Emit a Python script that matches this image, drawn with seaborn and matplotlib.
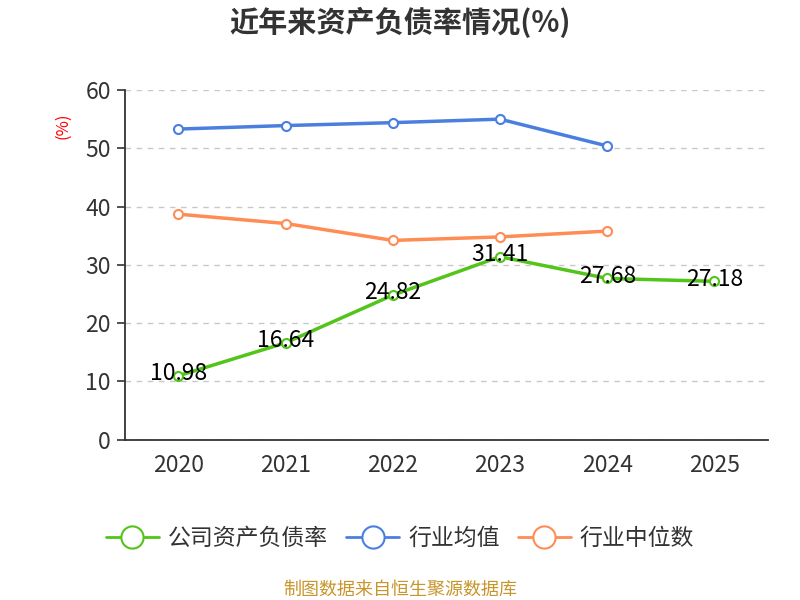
import numpy as np
import pandas as pd
import matplotlib
matplotlib.use('Agg')
import matplotlib.pyplot as plt
from matplotlib.lines import Line2D
import seaborn as sns

# ---- 数据 ----
years = ['2020', '2021', '2022', '2023', '2024', '2025']
company = [10.98, 16.64, 24.82, 31.41, 27.68, 27.18]
industry_avg = [53.3, 53.9, 54.4, 55.0, 50.4, np.nan]
industry_med = [38.7, 37.1, 34.2, 34.8, 35.8, np.nan]

series_names = ['公司资产负债率', '行业均值', '行业中位数']
colors = ['#52c41a', '#4a7fe0', '#ff8c55']

sns.set_theme(style='white')
plt.rcParams['font.family'] = ['Noto Sans CJK SC', 'DejaVu Sans']
plt.rcParams['axes.unicode_minus'] = False

df = pd.DataFrame({'pos': range(len(years)),
                   series_names[0]: company,
                   series_names[1]: industry_avg,
                   series_names[2]: industry_med})

fig = plt.figure(figsize=(8, 6), dpi=100)
ax = fig.add_axes([0.156, 0.267, 0.804, 0.583])

# 先画行业线，再画公司线
for name, c in zip(series_names[::-1], colors[::-1]):
    sub = df[['pos', name]].dropna()
    sns.lineplot(data=sub, x='pos', y=name, ax=ax, color=c, linewidth=2.5,
                 marker='o', markersize=6.5, markerfacecolor='white',
                 markeredgecolor=c, markeredgewidth=1.5)

for i, v in enumerate(company):
    ax.text(i, v + 0.4, f'{v:.2f}', ha='center', va='center',
            fontsize=16.5, color='black')

ax.set_xlim(-0.5, len(years) - 0.5)
ax.set_ylim(0, 60)
ax.set_yticks(range(0, 61, 10))
ax.set_xticks(range(len(years)))
ax.set_xticklabels(years)
ax.set_xticks(np.arange(-0.5, len(years), 1), minor=True)
ax.tick_params(axis='x', which='major', length=0, pad=10, labelsize=16.5, labelcolor='#333333')
ax.tick_params(axis='x', which='minor', length=6, width=1.2, color='#333333', direction='out')
ax.tick_params(axis='y', length=6, width=1.2, color='#333333', labelsize=16.5,
               labelcolor='#333333', left=True, pad=4)
ax.set_xlabel('')
ax.set_ylabel('')
ax.yaxis.grid(True, linestyle=(0, (4, 4)), color='#c8c8c8', linewidth=1)
ax.set_axisbelow(True)
for s in ['top', 'right']:
    ax.spines[s].set_visible(False)
for s in ['left', 'bottom']:
    ax.spines[s].set_color('#333333')
    ax.spines[s].set_linewidth(1.3)

fig.text(0.078, 0.79, '(%)', color='red', fontsize=12, rotation=90,
         ha='center', va='center')
fig.text(0.5, 0.963, '近年来资产负债率情况(%)', ha='center', va='center',
         fontsize=21, fontweight='bold', color='#333333')

handles = [Line2D([0], [0], color=c, linewidth=2, marker='o', markersize=16,
                  markerfacecolor='white', markeredgecolor=c, markeredgewidth=1.5)
           for c in colors]
fig.legend(handles, series_names, loc='center', bbox_to_anchor=(0.5, 0.103),
           ncol=3, frameon=False, fontsize=16.5, handlelength=2.3,
           columnspacing=0.8, handletextpad=0.4, labelcolor='#333333')

fig.text(0.5, 0.017, '制图数据来自恒生聚源数据库', ha='center', va='center',
         fontsize=13, color='#c8952a')

fig.savefig('out.png', dpi=100)
